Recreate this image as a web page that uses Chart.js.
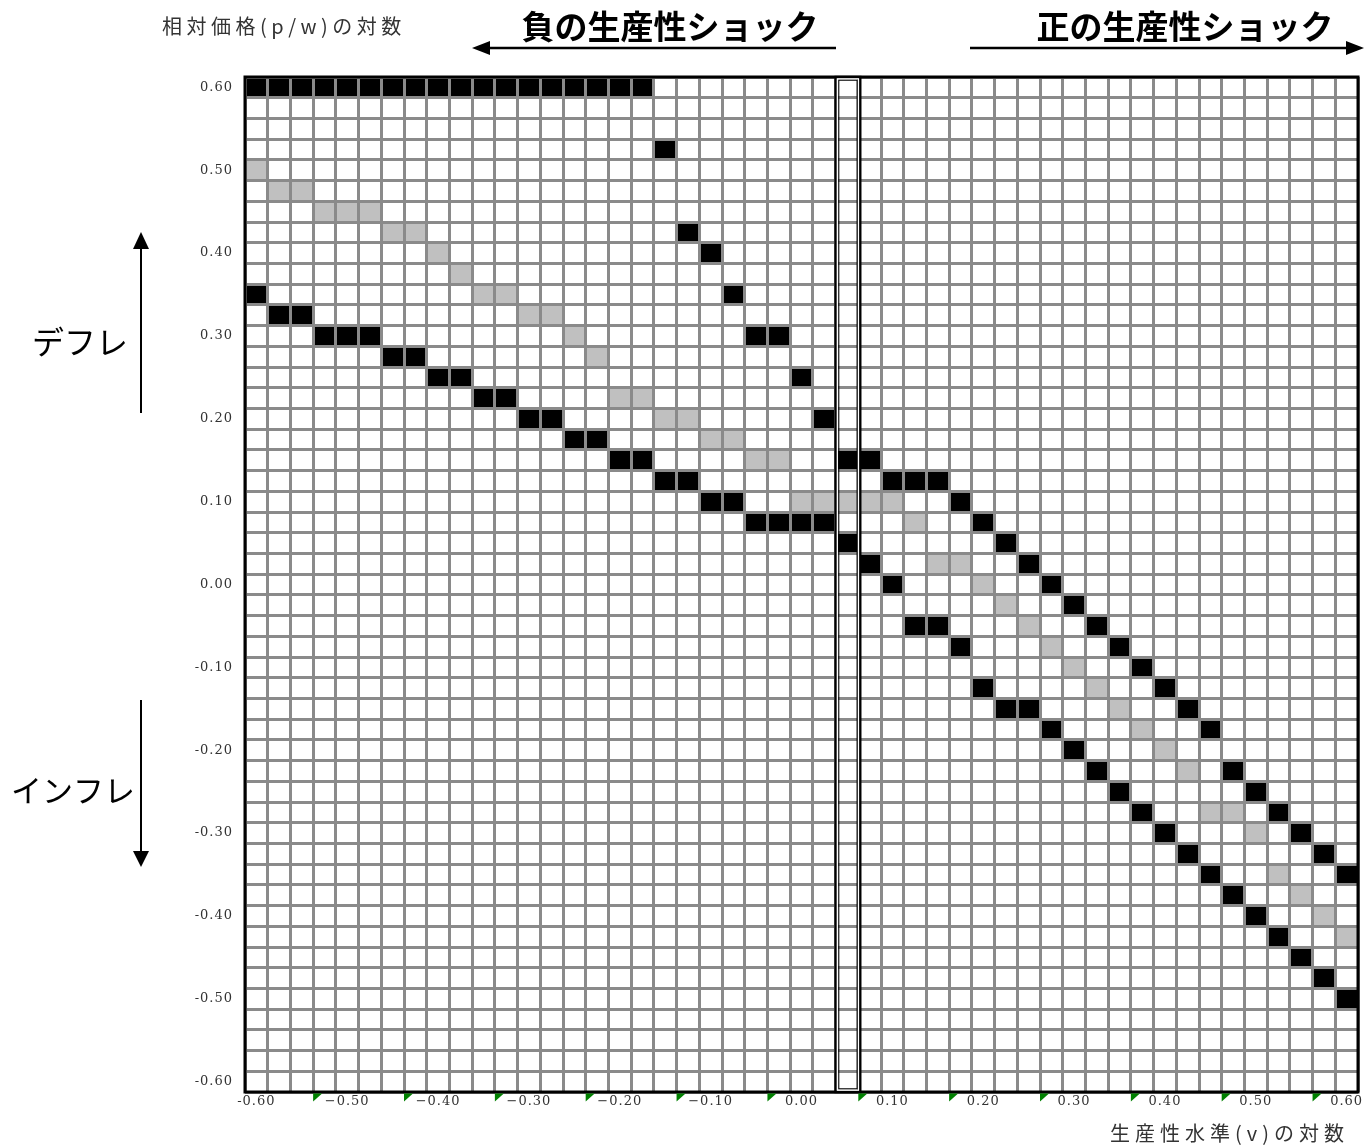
<!DOCTYPE html>
<html>
<head>
<meta charset="utf-8">
<script src="https://cdn.jsdelivr.net/npm/chart.js@4/dist/chart.umd.min.js"></script>
<style>
  html, body { margin: 0; padding: 0; background: #fff; }
  #wrap { width: 1368px; height: 1146px; position: relative; }
</style>
</head>
<body>
<div id="wrap"><canvas id="c" width="1368" height="1146"></canvas></div>
<script>
// ---- categories (cell centres) ----
const V_LEVELS = [-0.600,-0.575,-0.550,-0.525,-0.500,-0.475,-0.450,-0.425,-0.400,-0.375,-0.350,-0.325,-0.300,-0.275,-0.250,-0.225,-0.200,-0.175,-0.150,-0.125,-0.100,-0.075,-0.050,-0.025,0.000,0.025,0.050,0.075,0.100,0.125,0.150,0.175,0.200,0.225,0.250,0.275,0.300,0.325,0.350,0.375,0.400,0.425,0.450,0.475,0.500,0.525,0.550,0.575,0.600];
const P_LEVELS = [0.600,0.575,0.550,0.525,0.500,0.475,0.450,0.425,0.400,0.375,0.350,0.325,0.300,0.275,0.250,0.225,0.200,0.175,0.150,0.125,0.100,0.075,0.050,0.025,0.000,-0.025,-0.050,-0.075,-0.100,-0.125,-0.150,-0.175,-0.200,-0.225,-0.250,-0.275,-0.300,-0.325,-0.350,-0.375,-0.400,-0.425,-0.450,-0.475,-0.500,-0.525,-0.550,-0.575,-0.600];

// ---- black cells: v values for each p row (aligned with P_LEVELS) ----
const BLACK_BY_ROW = [
  [-0.600,-0.575,-0.550,-0.525,-0.500,-0.475,-0.450,-0.425,-0.400,-0.375,-0.350,-0.325,-0.300,-0.275,-0.250,-0.225,-0.200,-0.175], // 0.600
  [], [],                                   // 0.575, 0.550
  [-0.150],                                 // 0.525
  [], [], [],                               // 0.500, 0.475, 0.450
  [-0.125],                                 // 0.425
  [-0.100],                                 // 0.400
  [],                                       // 0.375
  [-0.600,-0.075],                          // 0.350
  [-0.575,-0.550],                          // 0.325
  [-0.525,-0.500,-0.475,-0.050,-0.025],     // 0.300
  [-0.450,-0.425],                          // 0.275
  [-0.400,-0.375,0.000],                    // 0.250
  [-0.350,-0.325],                          // 0.225
  [-0.300,-0.275,0.025],                    // 0.200
  [-0.250,-0.225],                          // 0.175
  [-0.200,-0.175,0.050,0.075],              // 0.150
  [-0.150,-0.125,0.100,0.125,0.150],        // 0.125
  [-0.100,-0.075,0.175],                    // 0.100
  [-0.050,-0.025,0.000,0.025,0.200],        // 0.075
  [0.050,0.225],                            // 0.050
  [0.075,0.250],                            // 0.025
  [0.100,0.275],                            // 0.000
  [0.300],                                  // -0.025
  [0.125,0.150,0.325],                      // -0.050
  [0.175,0.350],                            // -0.075
  [0.375],                                  // -0.100
  [0.200,0.400],                            // -0.125
  [0.225,0.250,0.425],                      // -0.150
  [0.275,0.450],                            // -0.175
  [0.300],                                  // -0.200
  [0.325,0.475],                            // -0.225
  [0.350,0.500],                            // -0.250
  [0.375,0.525],                            // -0.275
  [0.400,0.550],                            // -0.300
  [0.425,0.575],                            // -0.325
  [0.450,0.600],                            // -0.350
  [0.475],                                  // -0.375
  [0.500],                                  // -0.400
  [0.525],                                  // -0.425
  [0.550],                                  // -0.450
  [0.575],                                  // -0.475
  [0.600],                                  // -0.500
  [], [], [], []                            // -0.525 .. -0.600
];

// ---- grey cells: v values for each p row (aligned with P_LEVELS) ----
const GRAY_BY_ROW = [
  [], [], [], [],                           // 0.600 .. 0.525
  [-0.600],                                 // 0.500
  [-0.575,-0.550],                          // 0.475
  [-0.525,-0.500,-0.475],                   // 0.450
  [-0.450,-0.425],                          // 0.425
  [-0.400],                                 // 0.400
  [-0.375],                                 // 0.375
  [-0.350,-0.325],                          // 0.350
  [-0.300,-0.275],                          // 0.325
  [-0.250],                                 // 0.300
  [-0.225],                                 // 0.275
  [],                                       // 0.250
  [-0.200,-0.175],                          // 0.225
  [-0.150,-0.125],                          // 0.200
  [-0.100,-0.075],                          // 0.175
  [-0.050,-0.025],                          // 0.150
  [],                                       // 0.125
  [0.000,0.025,0.050,0.075,0.100],          // 0.100
  [0.125],                                  // 0.075
  [],                                       // 0.050
  [0.150,0.175],                            // 0.025
  [0.200],                                  // 0.000
  [0.225],                                  // -0.025
  [0.250],                                  // -0.050
  [0.275],                                  // -0.075
  [0.300],                                  // -0.100
  [0.325],                                  // -0.125
  [0.350],                                  // -0.150
  [0.375],                                  // -0.175
  [0.400],                                  // -0.200
  [0.425],                                  // -0.225
  [],                                       // -0.250
  [0.450,0.475],                            // -0.275
  [0.500],                                  // -0.300
  [],                                       // -0.325
  [0.525],                                  // -0.350
  [0.550],                                  // -0.375
  [0.575],                                  // -0.400
  [0.600],                                  // -0.425
  [], [], [], [], [], [], []                // -0.450 .. -0.600
];

// highlighted column (v)
const HIGHLIGHT_V = 0.050;

// ---- tick labels ----
const X_TICK_VALUES = [-0.6,-0.5,-0.4,-0.3,-0.2,-0.1,0.0,0.1,0.2,0.3,0.4,0.5,0.6];
const X_TICK_LABELS = ['-0.60','\u22120.50','\u22120.40','\u22120.30','\u22120.20','\u22120.10','0.00','0.10','0.20','0.30','0.40','0.50','0.60'];
const Y_TICK_VALUES = [0.6,0.5,0.4,0.3,0.2,0.1,0.0,-0.1,-0.2,-0.3,-0.4,-0.5,-0.6];
const Y_TICK_LABELS = ['0.60','0.50','0.40','0.30','0.20','0.10','0.00','-0.10','-0.20','-0.30','-0.40','-0.50','-0.60'];

// ---- derived helpers ----
const halfV = Math.abs(V_LEVELS[1] - V_LEVELS[0]) / 2;
const halfP = Math.abs(P_LEVELS[0] - P_LEVELS[1]) / 2;
const xMin = Math.min(...V_LEVELS) - halfV, xMax = Math.max(...V_LEVELS) + halfV;
const yMin = Math.min(...P_LEVELS) - halfP, yMax = Math.max(...P_LEVELS) + halfP;
const X_BOUNDS = V_LEVELS.map(v => v - halfV).concat([xMax]);
const Y_BOUNDS = P_LEVELS.map(p => p + halfP).concat([yMin]);

function cells(byRow) {
  const out = [];
  byRow.forEach((vs, i) => vs.forEach(v => out.push({ x: v, y: [P_LEVELS[i] - halfP, P_LEVELS[i] + halfP] })));
  return out;
}
function lookup(values, labels, v) {
  const i = values.findIndex(t => Math.abs(t - v) < 1e-9);
  return i >= 0 ? labels[i] : '';
}

const TICK_FONT = { family: "'DejaVu Serif', serif", size: 13 };

const annotations = {
  id: 'annotations',
  beforeDraw(chart) {
    const c = chart.ctx;
    c.save(); c.fillStyle = '#fff'; c.fillRect(0, 0, chart.width, chart.height); c.restore();
    try { c.letterSpacing = '1px'; } catch (e) {}
  },
  afterDraw(chart) {
    const c = chart.ctx, a = chart.chartArea, xs = chart.scales.x;
    c.save();
    // plot frame
    c.strokeStyle = '#000'; c.lineWidth = 3;
    c.strokeRect(a.left, a.top, a.right - a.left, a.bottom - a.top);
    // highlighted column (double border)
    const xl = xs.getPixelForValue(HIGHLIGHT_V - halfV);
    const xr = xs.getPixelForValue(HIGHLIGHT_V + halfV) + 2;
    const box = (inset, lw, col) => {
      c.lineWidth = lw; c.strokeStyle = col;
      c.strokeRect(xl + inset, a.top + inset, xr - xl - 2 * inset, a.bottom - a.top - 2 * inset);
    };
    box(0, 2.4, '#000'); box(1.8, 1.2, '#fff'); box(3.2, 1.1, '#000');
    // small green cell markers beside tick labels
    c.fillStyle = '#008000';
    X_TICK_VALUES.slice(1).forEach(v => {
      const px = xs.getPixelForValue(v - 3 * halfV);
      c.beginPath();
      c.moveTo(px, a.bottom + 1.5); c.lineTo(px + 9, a.bottom + 1.5); c.lineTo(px, a.bottom + 9.5);
      c.closePath(); c.fill();
    });
    // texts
    const text = (s, x, y, font, align, spacing, color) => {
      c.font = font; c.textAlign = align; c.textBaseline = 'middle'; c.fillStyle = color;
      try { c.letterSpacing = spacing + 'px'; } catch (e) {}
      c.fillText(s, x, y);
      try { c.letterSpacing = '0px'; } catch (e) {}
    };
    const JP = '"Noto Sans CJK JP", "Noto Sans", sans-serif';
    text('負の生産性ショック', 670, 26, 'bold 33px ' + JP, 'center', 0, '#000');
    text('正の生産性ショック', 1185, 26, 'bold 33px ' + JP, 'center', 0, '#000');
    text('デフレ', 80, 342, '32px ' + JP, 'center', 0, '#000');
    text('インフレ', 73, 790, '31px ' + JP, 'center', 0, '#000');
    text('相対価格(p/w)の対数', 162, 26, '20px ' + JP, 'left', 4.5, '#333');
    text('生産性水準(v)の対数', 1110, 1133, '20px ' + JP, 'left', 5, '#333');
    // arrows
    const arrow = (x1, y1, x2, y2, lw, head, hw) => {
      const ang = Math.atan2(y2 - y1, x2 - x1);
      const bx = x2 - head * Math.cos(ang), by = y2 - head * Math.sin(ang);
      c.strokeStyle = '#000'; c.fillStyle = '#000'; c.lineWidth = lw;
      c.beginPath(); c.moveTo(x1, y1); c.lineTo(bx, by); c.stroke();
      c.beginPath();
      c.moveTo(x2, y2);
      c.lineTo(bx + hw * Math.sin(ang), by - hw * Math.cos(ang));
      c.lineTo(bx - hw * Math.sin(ang), by + hw * Math.cos(ang));
      c.closePath(); c.fill();
    };
    arrow(836, 48, 472, 48, 2.5, 18, 7);
    arrow(970, 48, 1364, 48, 2.5, 18, 7);
    arrow(141, 413, 141, 232, 2, 17, 8);
    arrow(141, 700, 141, 867, 2, 16, 8);
    c.restore();
  }
};

new Chart(document.getElementById('c'), {
  type: 'bar',
  data: {
    datasets: [
      { label: 'black', data: cells(BLACK_BY_ROW), backgroundColor: '#000000', borderWidth: 0,
        grouped: false, barPercentage: 1, categoryPercentage: 1, xAxisID: 'x', yAxisID: 'y' },
      { label: 'gray', data: cells(GRAY_BY_ROW), backgroundColor: '#c0c0c0', borderWidth: 0,
        grouped: false, barPercentage: 1, categoryPercentage: 1, xAxisID: 'x', yAxisID: 'y' }
    ]
  },
  options: {
    responsive: false,
    animation: false,
    devicePixelRatio: 1,
    layout: { padding: { top: 77, right: 10, bottom: 0, left: 0 }, autoPadding: false },
    plugins: { legend: { display: false }, tooltip: { enabled: false } },
    scales: {
      x: {
        type: 'linear', position: 'bottom', min: xMin, max: xMax, offset: false,
        afterBuildTicks: s => { s.ticks = X_TICK_VALUES.map(v => ({ value: v })); },
        afterFit: s => { s.height = 54; },
        grid: { display: false, drawTicks: false, offset: false },
        border: { display: false },
        ticks: { autoSkip: false, maxRotation: 0, padding: 2, color: '#333', font: TICK_FONT,
                 callback: v => lookup(X_TICK_VALUES, X_TICK_LABELS, v) }
      },
      xg: {
        type: 'linear', position: 'bottom', min: xMin, max: xMax, offset: false,
        afterBuildTicks: s => { s.ticks = X_BOUNDS.map(v => ({ value: v })); },
        afterFit: s => { s.height = 0; },
        grid: { display: true, color: '#8a8a8a', lineWidth: 3, drawTicks: false, offset: false, z: 1 },
        border: { display: false },
        ticks: { display: false }
      },
      y: {
        type: 'linear', position: 'left', min: yMin, max: yMax,
        afterBuildTicks: s => { s.ticks = Y_TICK_VALUES.map(v => ({ value: v })); },
        afterFit: s => { s.width = 245; },
        grid: { display: false, drawTicks: false },
        border: { display: false },
        ticks: { autoSkip: false, padding: 12, color: '#333', font: TICK_FONT,
                 callback: v => lookup(Y_TICK_VALUES, Y_TICK_LABELS, v) }
      },
      yg: {
        type: 'linear', position: 'left', min: yMin, max: yMax,
        afterBuildTicks: s => { s.ticks = Y_BOUNDS.map(v => ({ value: v })); },
        afterFit: s => { s.width = 0; },
        grid: { display: true, color: '#8a8a8a', lineWidth: 3, drawTicks: false, offset: false, z: 1 },
        border: { display: false },
        ticks: { display: false }
      }
    }
  },
  plugins: [annotations]
});
</script>
</body>
</html>
